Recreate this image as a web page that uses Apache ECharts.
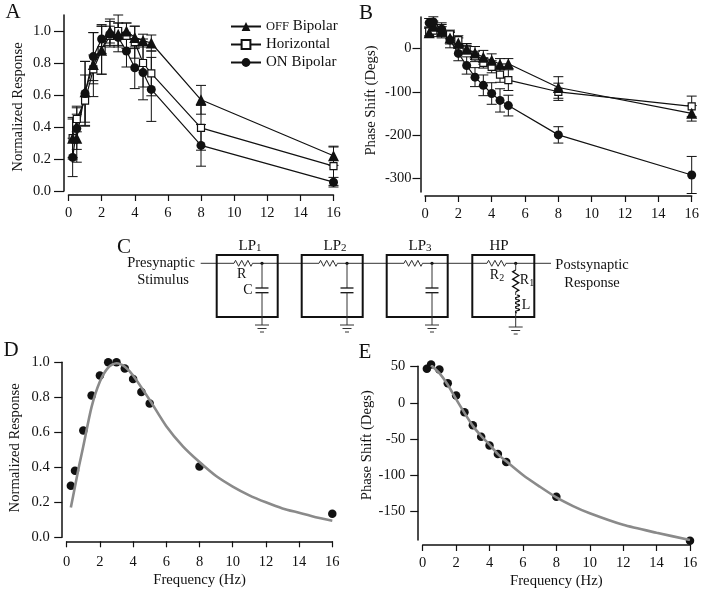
<!DOCTYPE html>
<html><head><meta charset="utf-8">
<style>html,body{margin:0;padding:0;background:#fff}#c{width:702px;height:593px}</style>
<script src="https://cdn.jsdelivr.net/npm/echarts@6/dist/echarts.min.js"></script>
</head><body><div id="c"></div>
<script>
const freq = [0.25,0.5,1,1.5,2,2.5,3,3.5,4,4.5,5,8,16];
const xTicks = [0,2,4,6,8,10,12,14,16];
const respTicks = [0,0.2,0.4,0.6,0.8,1.0];
const phaseTicksB = [-300,-200,-100,0];
const phaseTicksE = [-150,-100,-50,0,50];

const aOff = [0.33,0.33,0.62,0.79,0.88,1.0,0.98,1.0,0.96,0.94,0.925,0.57,0.22];
const aOffErr = [0.12,0.15,0.19,0.2,0.15,0.075,0.07,0.05,0.07,0.04,0.05,0.09,0.06];
const aHor = [0.33,0.45,0.565,0.76,0.88,0.97,1.0,0.97,0.93,0.80,0.735,0.395,0.155];
const aHorErr = [0.13,0.08,0.16,0.09,0.15,0.06,0.1,0.08,0.1,0.15,0.14,0.14,0.12];
const aOn = [0.21,0.39,0.61,0.84,0.95,0.98,0.96,0.875,0.77,0.74,0.635,0.285,0.055];
const aOnErr = [0.12,0.13,0.2,0.15,0.09,0.08,0.09,0.1,0.13,0.17,0.2,0.13,0.03];

const bOff = [37,52,42,25,13,0,-10,-20,-27,-36,-35,-90,-150];
const bOffErr = [10,12,14,14,12,12,15,16,15,13,12,25,18];
const bHor = [40,42,38,33,20,-2,-18,-33,-42,-60,-73,-100,-134];
const bHorErr = [10,14,13,10,10,10,12,12,14,18,24,20,24];
const bOn = [60,62,45,20,-11,-39,-66,-85,-104,-120,-132,-200,-293];
const bOnErr = [10,12,15,18,17,20,22,24,25,27,24,19,43];

const dDots = [0.295,0.38,0.61,0.81,0.925,1.0,1.0,0.965,0.905,0.83,0.765,0.405,0.135];
const dFitX = [0.25,0.5,0.75,1,1.5,2,2.5,3,3.5,4,5,6,7,8,9,10,11,12,13,14,15,16];
const dFitY = [0.17,0.29,0.41,0.52,0.745,0.89,0.97,0.995,0.975,0.925,0.785,0.635,0.52,0.43,0.35,0.29,0.24,0.2,0.165,0.14,0.115,0.095];
const eDots = [47,53,46,27,10,-13,-31,-47,-59,-71,-82,-130,-191];
const eFitX = [0.5,1,1.5,2,2.5,3,3.5,4,4.5,5,6,7,8,9,10,12,14,16];
const eFitY = [52,41,25,5,-14,-32,-46,-58,-71,-81,-100,-116,-131,-143,-153,-169,-180,-190];

const FONT = 'Liberation Serif', INK = '#111';
const zip = (xs, ...cols) => xs.map((x, i) => [x, ...cols.map(c => c[i])]);

function xAxis(gridIndex, o) {
  return {type:'value', gridIndex, min:0, max:16, offset:o.offset,
    name: o.gap ? 'Frequency (Hz)' : '', nameLocation:'middle', nameGap:o.gap||0,
    nameTextStyle:{fontFamily:FONT,fontSize:14.7,color:INK},
    splitLine:{show:false}, position:'bottom',
    axisLine:{onZero:false,lineStyle:{color:INK,width:1.5}},
    axisTick:{length:6,inside:false,customValues:xTicks,lineStyle:{color:INK,width:1.2}},
    axisLabel:{customValues:xTicks,margin:o.margin,fontFamily:FONT,fontSize:14.5,color:INK,showMinLabel:true,showMaxLabel:true}};
}
function yAxis(gridIndex, name, ticks, min, max, o) {
  const s=o.shift||0;
  return {type:'value', gridIndex, min, max, offset:4.5, name, nameLocation:'middle', nameGap:o.gap,
    nameTextStyle:{fontFamily:FONT,fontSize:14.7,color:INK,padding:[0,Math.max(s,0),0,Math.max(-s,0)]},
    splitLine:{show:false}, position:'left',
    axisLine:{onZero:false,lineStyle:{color:INK,width:1.5}},
    axisTick:{length:o.tick,customValues:ticks,lineStyle:{color:INK,width:1.2}},
    axisLabel:{customValues:ticks,margin:o.margin,fontFamily:FONT,fontSize:14.5,color:INK,
      showMinLabel:true,showMaxLabel:true,
      formatter:v=>o.digits?Number(v).toFixed(o.digits):String(v)}};
}
function errBars(idx, xs, ys, errs) {
  return {type:'custom', xAxisIndex:idx, yAxisIndex:idx, silent:true, clip:false, z:1,
    data:zip(xs,ys,errs), encode:{x:0,y:1},
    renderItem(p, api){
      const x=api.value(0), y=api.value(1), e=api.value(2);
      const t=api.coord([x,y+e]), b=api.coord([x,y-e]);
      const st={stroke:INK,lineWidth:1,fill:null}, cap=5;
      return {type:'group',children:[
        {type:'line',shape:{x1:t[0],y1:t[1],x2:b[0],y2:b[1]},style:st},
        {type:'line',shape:{x1:t[0]-cap,y1:t[1],x2:t[0]+cap,y2:t[1]},style:st},
        {type:'line',shape:{x1:b[0]-cap,y1:b[1],x2:b[0]+cap,y2:b[1]},style:st}]};
    }};
}
const styles = {
  'OFF Bipolar':{symbol:'triangle',symbolSize:11,fill:INK},
  'Horizontal':{symbol:'rect',symbolSize:7,fill:'#fff'},
  'ON Bipolar':{symbol:'circle',symbolSize:9,fill:INK}
};
function lineS(idx, name, ys) {
  const s=styles[name];
  return {type:'line',name,xAxisIndex:idx,yAxisIndex:idx,data:zip(freq,ys),clip:false,z:3,
    symbol:s.symbol,symbolSize:s.symbolSize,showSymbol:true,showAllSymbol:true,
    lineStyle:{color:INK,width:1.2},
    itemStyle:{color:s.fill,borderColor:INK,borderWidth:s.fill==='#fff'?1.2:0}};
}
function dots(idx, ys) {
  return {type:'scatter',xAxisIndex:idx,yAxisIndex:idx,data:zip(freq,ys),clip:false,z:3,
    symbol:'circle',symbolSize:8.5,itemStyle:{color:INK,opacity:1}};
}
function fit(idx, xs, ys) {
  return {type:'line',xAxisIndex:idx,yAxisIndex:idx,data:zip(xs,ys),smooth:0.25,showSymbol:false,symbol:'none',z:4,
    lineStyle:{color:'#8a8a8a',width:2.6}};
}

/* ---- circuit diagram C ---- */
const thin={stroke:'#333',lineWidth:1,fill:null}, thick={stroke:INK,lineWidth:2,fill:null};
const g=[];
const poly=(points,style)=>g.push({type:'polyline',shape:{points},style:style||thin,silent:true});
const box=(x,y,w,h)=>g.push({type:'rect',shape:{x,y,width:w,height:h},style:thick,silent:true});
const txt=(text,x,y,size,align)=>g.push({type:'text',x,y,silent:true,style:{text,x:0,y:0,fill:INK,
  font:(size||15)+'px "'+FONT+'"',align:align||'center',verticalAlign:'middle'}});
const subText=(a,b,x,y,size)=>g.push({type:'text',x,y,silent:true,style:{text:'{n|'+a+'}{s|'+b+'}',fill:INK,align:'center',verticalAlign:'middle',
  rich:{n:{font:size+'px "'+FONT+'"',fill:INK,lineHeight:size+2,verticalAlign:'middle'},
        s:{font:(size-4)+'px "'+FONT+'"',fill:INK,padding:[5,0,0,0],lineHeight:size+2}}}});
function resH(x0,x1,y){const n=6,p=[[x0,y]];for(let i=0;i<n;i++)p.push([x0+(x1-x0)*(i+0.5)/n,y+(i%2?3:-3)]);p.push([x1,y]);poly(p);}
function resV(x,y0,y1){const n=6,p=[[x,y0]];for(let i=0;i<n;i++)p.push([x+(i%2?3:-3),y0+(y1-y0)*(i+0.5)/n]);p.push([x,y1]);poly(p,{stroke:INK,lineWidth:1.4,fill:null});}
function ground(x,y){[[7,0],[4.5,3.5],[2,7]].forEach(([w,d])=>poly([[x-w,y+d],[x+w,y+d]]));}
function dot(x,y){g.push({type:'circle',shape:{cx:x,cy:y,r:1.6},style:{fill:INK},silent:true});}
const wireY=263.3;
poly([[200.7,wireY],[551,wireY]]);
[0,85,170].forEach((o,i)=>{
  const nx=262+o;
  box(216.7+o,255,61,62);
  g.push({type:'line',shape:{x1:234+o,y1:wireY,x2:252.5+o,y2:wireY},style:{stroke:'#fff',lineWidth:2},silent:true});
  resH(234+o,252.5+o,wireY);
  dot(nx,wireY);
  poly([[nx,wireY],[nx,288]]);
  poly([[nx-6.5,288],[nx+6.5,288]],{stroke:INK,lineWidth:1.3,fill:null});
  poly([[nx-6.5,292.7],[nx+6.5,292.7]],{stroke:INK,lineWidth:1.3,fill:null});
  poly([[nx,292.7],[nx,325]]);
  ground(nx,325);
  subText('LP',String(i+1),250+o,245.7,15);
});
box(472.3,255,62,62);
g.push({type:'line',shape:{x1:487,y1:wireY,x2:506,y2:wireY},style:{stroke:'#fff',lineWidth:2},silent:true});
resH(487,506,wireY);
dot(515.7,wireY);
poly([[515.7,wireY],[515.7,270]]);
resV(515.7,270,292);
{const p=[];const top=295,bot=313;for(let k=0;k<=40;k++){const t=k/40;p.push([515.7+Math.max(0,2.6*Math.sin(t*Math.PI*4*2)+1.2),top+(bot-top)*t]);}poly(p,{stroke:INK,lineWidth:1.3,fill:null});}
poly([[515.7,292],[515.7,295]]);
poly([[515.7,313],[515.7,327]]);
ground(515.7,327);
txt('HP',499,246,15);
txt('R',241.7,274,14);
txt('C',248,290,14);
subText('R','2',497,275.5,14);
subText('R','1',527,280.5,14);
txt('L',526,305,14);
txt('Presynaptic',161,262.7,14.5);
txt('Stimulus',163,280,14.5);
txt('Postsynaptic',592,265,14.5);
txt('Response',592,283,14.5);
txt('A',13,12,21);
txt('B',366,13,21);
txt('C',124,247,21);
txt('D',11,350,21);
txt('E',365,352,21);

const option = {
  animation:false, backgroundColor:'#fff',
  grid:[
    {left:68.5,top:15,width:265,height:176},
    {left:425,top:17,width:266.7,height:175},
    {left:66.7,top:362.3,width:265.6,height:175},
    {left:422.7,top:366.3,width:267.3,height:173.7}
  ],
  xAxis:[xAxis(0,{offset:4,margin:11}),xAxis(1,{offset:4,margin:11}),
         xAxis(2,{offset:4,margin:13,gap:31}),xAxis(3,{offset:5,margin:11,gap:29})],
  yAxis:[
    yAxis(0,'Normalized Response',respTicks,0,1.1,{gap:38,digits:1,tick:10,margin:13,shift:8}),
    yAxis(1,'Phase Shift (Degs)',phaseTicksB,-332.5,73.5,{gap:42,tick:8,margin:9,shift:-8}),
    yAxis(2,'Normalized Response',respTicks,0,1,{gap:39.5,digits:1,tick:8,margin:12.5,shift:-4}),
    yAxis(3,'Phase Shift (Degs)',phaseTicksE,-190,50.5,{gap:42,tick:8,margin:13,shift:-16})
  ],
  legend:{data:['OFF Bipolar','Horizontal','ON Bipolar'],orient:'vertical',left:230,top:19,padding:0,itemWidth:30,itemHeight:11,itemGap:3,
    selectedMode:false,
    formatter:n=>n.startsWith('OFF')?'{s|OFF}'+n.slice(3):n,
    textStyle:{fontFamily:FONT,fontSize:15,color:INK,rich:{s:{fontFamily:FONT,fontSize:12.5,color:INK}}}},
  series:[
    errBars(0,freq,aHor,aHorErr),errBars(0,freq,aOff,aOffErr),errBars(0,freq,aOn,aOnErr),
    lineS(0,'Horizontal',aHor),lineS(0,'OFF Bipolar',aOff),lineS(0,'ON Bipolar',aOn),
    errBars(1,freq,bHor,bHorErr),errBars(1,freq,bOff,bOffErr),errBars(1,freq,bOn,bOnErr),
    lineS(1,'Horizontal',bHor),lineS(1,'OFF Bipolar',bOff),lineS(1,'ON Bipolar',bOn),
    dots(2,dDots),fit(2,dFitX,dFitY),
    dots(3,eDots),fit(3,eFitX,eFitY)
  ],
  graphic:{elements:g}
};
const chart=echarts.init(document.getElementById('c'),null,{renderer:'canvas'});
chart.setOption(option);
</script></body></html>
